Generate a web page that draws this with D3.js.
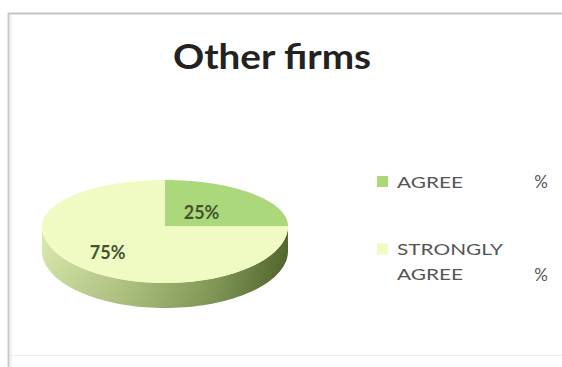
<!DOCTYPE html>
<html>
<head>
<meta charset="utf-8">
<script src="https://cdn.jsdelivr.net/npm/d3@7"></script>
<style>
  html, body { margin: 0; padding: 0; background: #fff; }
  svg { display: block; }
</style>
</head>
<body>
<svg id="chart" width="562" height="367"></svg>
<script>
// Survey answers for "Other firms"
const categories = ["AGREE", "STRONGLY AGREE"];
const legendLines = [["AGREE"], ["STRONGLY", "AGREE"]];
const shares = [25, 75];
const sliceLabels = ["25%", "75%"];
const legendSuffix = ["%", "%"];
const title = "Other firms";

const topColors = ["#acd87c", "#f0fbc4"];
const labelColor = "#44532f";
// how far out (as a share of the radius) each slice label sits
const labelRadiusFactor = [0.42, 0.66];

const svg = d3.select("#chart");

// chart frame (runs off the right edge)
svg.append("rect")
  .attr("x", 8.5).attr("y", 13.5)
  .attr("width", 620).attr("height", 342)
  .attr("fill", "#fff")
  .attr("stroke", "#ececec").attr("stroke-width", 1);
svg.append("path")
  .attr("d", "M8.5,367V13.5H562")
  .attr("fill", "none")
  .attr("stroke", "#c4c4c4").attr("stroke-width", 1.8);
svg.append("line")
  .attr("x1", 11).attr("x2", 11).attr("y1", 15).attr("y2", 367)
  .attr("stroke", "#ececec").attr("stroke-width", 1.5);

// title
svg.append("text")
  .attr("x", 272).attr("y", 69)
  .attr("text-anchor", "middle")
  .attr("font-family", "Lato, 'Open Sans', sans-serif")
  .attr("font-weight", "bold")
  .attr("font-size", 34)
  .attr("fill", "#222")
  .attr("textLength", 198)
  .attr("lengthAdjust", "spacingAndGlyphs")
  .text(title);

// 3D pie geometry: the near half of the disc is drawn a little deeper
// than the far half to give a perspective look
const cx = 165, cy = 226, rx = 123, ryBack = 46, ryFront = 57, depth = 25;

const pie = d3.pie().sort(null).value(d => d)(shares);

const ryAt = a => (Math.cos(a) > 0 ? ryBack : ryFront);
const ellipsePt = (a, dy, f = 1) =>
  [cx + rx * f * Math.sin(a), cy - ryAt(a) * f * Math.cos(a) + dy];
const sweep = (a0, a1, n = 80) => d3.range(0, n + 1).map(i => a0 + (a1 - a0) * i / n);
const line = d3.line();

const defs = svg.append("defs");
const sideGrad = defs.append("linearGradient")
  .attr("id", "sideGrad")
  .attr("gradientUnits", "userSpaceOnUse")
  .attr("x1", cx - rx).attr("y1", 0).attr("x2", cx + rx).attr("y2", 0);
sideGrad.append("stop").attr("offset", "0").attr("stop-color", "#dcecae");
sideGrad.append("stop").attr("offset", "0.3").attr("stop-color", "#bfd48e");
sideGrad.append("stop").attr("offset", "0.7").attr("stop-color", "#8aa35c");
sideGrad.append("stop").attr("offset", "1").attr("stop-color", "#56692f");

const shade = defs.append("linearGradient")
  .attr("id", "sideShade")
  .attr("gradientUnits", "userSpaceOnUse")
  .attr("x1", 0).attr("y1", cy).attr("x2", 0).attr("y2", cy + ryFront + depth);
shade.append("stop").attr("offset", "0").attr("stop-color", "#000").attr("stop-opacity", 0);
shade.append("stop").attr("offset", "1").attr("stop-color", "#000").attr("stop-opacity", 0.1);

// visible rim: the front half of each slice, between 90° and 270°
const rim = svg.append("g");
pie.forEach(p => {
  const a0 = Math.max(p.startAngle, Math.PI / 2);
  const a1 = Math.min(p.endAngle, 3 * Math.PI / 2);
  if (a1 <= a0) return;
  const steps = sweep(a0, a1);
  const pts = steps.map(a => ellipsePt(a, 0))
    .concat(steps.slice().reverse().map(a => ellipsePt(a, depth)));
  const d = line(pts) + "Z";
  rim.append("path").attr("d", d).attr("fill", "url(#sideGrad)");
  rim.append("path").attr("d", d).attr("fill", "url(#sideShade)");
});

// top face
svg.append("g").selectAll("path")
  .data(pie)
  .join("path")
  .attr("d", p => line([[cx, cy]].concat(sweep(p.startAngle, p.endAngle).map(a => ellipsePt(a, 0)))) + "Z")
  .attr("fill", (d, i) => topColors[i]);

// slice labels
svg.selectAll("text.slice")
  .data(pie)
  .join("text")
  .attr("class", "slice")
  .attr("x", (p, i) => ellipsePt((p.startAngle + p.endAngle) / 2, 0, labelRadiusFactor[i])[0])
  .attr("y", (p, i) => ellipsePt((p.startAngle + p.endAngle) / 2, 0, labelRadiusFactor[i])[1])
  .attr("dy", "0.36em")
  .attr("text-anchor", "middle")
  .attr("font-family", "Lato, 'Open Sans', sans-serif")
  .attr("font-weight", "bold")
  .attr("font-size", 18)
  .attr("fill", labelColor)
  .text((d, i) => sliceLabels[i]);

// legend
const legendY = [182, 249.5];
const lineGap = 25;
const legend = svg.append("g")
  .attr("font-family", "Lato, 'Open Sans', sans-serif")
  .attr("font-size", 16)
  .attr("fill", "#555");
categories.forEach((c, i) => {
  const g = legend.append("g").attr("transform", `translate(0,${legendY[i]})`);
  g.append("rect")
    .attr("x", 377).attr("y", -6).attr("width", 11).attr("height", 11)
    .attr("fill", topColors[i]);
  const lines = legendLines[i];
  lines.forEach((t, j) => {
    g.append("text")
      .attr("x", 397).attr("y", j * lineGap)
      .attr("dy", "0.36em")
      .attr("textLength", t === "AGREE" ? 66 : 106)
      .attr("lengthAdjust", "spacingAndGlyphs")
      .text(t);
  });
  g.append("text")
    .attr("x", 541).attr("y", (lines.length - 1) * lineGap)
    .attr("dy", "0.36em")
    .attr("text-anchor", "middle")
    .attr("font-size", 17)
    .text(legendSuffix[i]);
});
</script>
</body>
</html>
